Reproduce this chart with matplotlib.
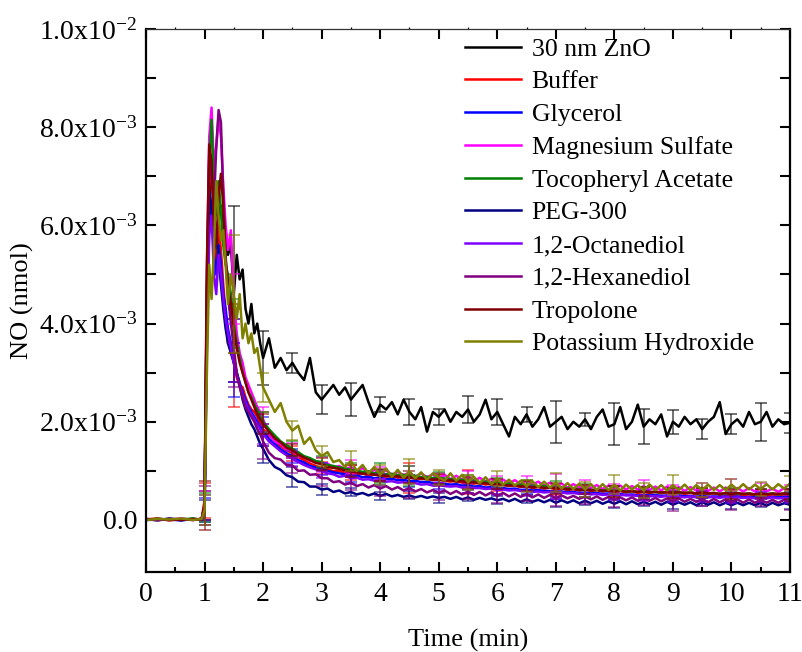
import numpy as np
import matplotlib
matplotlib.use("Agg")
import matplotlib.pyplot as plt
from matplotlib.ticker import FuncFormatter, MultipleLocator, FixedLocator

plt.rcParams['font.family'] = ['Liberation Serif', 'DejaVu Serif']
plt.rcParams['mathtext.fontset'] = 'custom'
plt.rcParams['mathtext.rm'] = 'Liberation Serif'
plt.rcParams['mathtext.it'] = 'Liberation Serif:italic'

# ---- data (NO in units of 1e-3 nmol) ----
time_min = [0.0, 0.2, 0.4, 0.6, 0.8, 0.95, 1.0, 1.04, 1.08, 1.12, 1.16, 1.2, 1.24, 1.28,
            1.32, 1.36, 1.4, 1.45, 1.5, 1.55, 1.6, 1.65, 1.7, 1.75, 1.8, 1.85, 1.9, 1.95, 2.0,
            2.1, 2.2, 2.3, 2.4, 2.5, 2.6, 2.7, 2.8, 2.9, 3.0,
            3.1, 3.2, 3.3, 3.4, 3.5, 3.6, 3.7, 3.8, 3.9, 4.0,
            4.1, 4.2, 4.3, 4.4, 4.5, 4.6, 4.7, 4.8, 4.9, 5.0,
            5.1, 5.2, 5.3, 5.4, 5.5, 5.6, 5.7, 5.8, 5.9, 6.0,
            6.1, 6.2, 6.3, 6.4, 6.5, 6.6, 6.7, 6.8, 6.9, 7.0,
            7.1, 7.2, 7.3, 7.4, 7.5, 7.6, 7.7, 7.8, 7.9, 8.0,
            8.1, 8.2, 8.3, 8.4, 8.5, 8.6, 8.7, 8.8, 8.9, 9.0,
            9.1, 9.2, 9.3, 9.4, 9.5, 9.6, 9.7, 9.8, 9.9, 10.0,
            10.1, 10.2, 10.3, 10.4, 10.5, 10.6, 10.7, 10.8, 10.9, 11.0]

zno_30nm = [0.02, -0.01, 0.03, 0.0, 0.02, 0.01, 0.3, 4.5, 6.6, 7.1, 6.5, 6.9, 6.2, 6.4, 5.8, 5.9,
            5.4, 5.6, 4.6, 5.4, 4.9, 5.1, 4.3, 4.0, 4.4, 3.8, 4.0, 3.6, 3.3,
            3.7, 3.1, 3.3, 3.05, 3.2, 3.0, 2.85, 3.3, 2.6, 2.45,
            2.6, 2.75, 2.55, 2.7, 2.45, 2.6, 2.75, 2.4, 2.1, 2.35,
            2.25, 2.4, 2.15, 2.45, 2.2, 2.05, 2.3, 1.8, 2.2, 2.1,
            2.25, 2.0, 2.2, 2.1, 2.25, 2.0, 2.15, 2.45, 2.05, 2.2,
            1.95, 1.7, 2.1, 1.95, 2.15, 1.9, 2.05, 2.3, 1.9, 2.0,
            2.1, 1.85, 2.0, 1.9, 2.05, 1.85, 2.1, 2.25, 1.9, 1.95,
            2.3, 1.85, 2.0, 2.35, 1.9, 2.05, 1.95, 2.15, 1.7, 2.0,
            1.9, 2.1, 1.95, 2.05, 1.85, 2.0, 2.1, 2.4, 1.75, 1.95,
            2.05, 1.9, 2.2, 1.95, 2.0, 2.2, 1.9, 2.05, 1.95, 1.98]

buffer = [0.01, 0.03, -0.01, 0.02, 0.0, 0.02, 0.4, 4.2, 6.8, 7.4, 5.8, 5.2, 6.0, 5.5, 4.8, 4.2,
          3.6, 3.5, 3.2, 2.9, 2.75, 2.7, 2.5, 2.35, 2.25, 2.2, 2.1, 1.95, 1.85,
          1.72, 1.62, 1.5, 1.42, 1.36, 1.28, 1.22, 1.15, 1.1, 1.06,
          1.04, 0.99, 1.0, 0.96, 0.97, 0.93, 0.95, 0.9, 0.93, 0.9,
          0.88, 0.91, 0.86, 0.88, 0.85, 0.87, 0.83, 0.85, 0.81, 0.82,
          0.8, 0.78, 0.8, 0.76, 0.77, 0.74, 0.76, 0.72, 0.74, 0.7,
          0.72, 0.69, 0.7, 0.67, 0.69, 0.65, 0.67, 0.64, 0.66, 0.62,
          0.64, 0.61, 0.63, 0.6, 0.62, 0.59, 0.61, 0.58, 0.6, 0.57,
          0.59, 0.56, 0.58, 0.55, 0.57, 0.55, 0.57, 0.54, 0.56, 0.53,
          0.55, 0.53, 0.55, 0.52, 0.54, 0.52, 0.54, 0.51, 0.53, 0.5,
          0.53, 0.5, 0.52, 0.5, 0.52, 0.49, 0.52, 0.5, 0.52, 0.51]

glycerol = [0.0, 0.02, 0.01, -0.01, 0.02, 0.0, 0.2, 3.8, 6.0, 6.4, 5.4, 5.0, 5.6, 5.2, 4.6, 4.3,
            3.9, 3.6, 3.3, 3.0, 2.8, 2.6, 2.45, 2.3, 2.2, 2.1, 2.0, 1.9, 1.8,
            1.65, 1.55, 1.44, 1.36, 1.3, 1.22, 1.17, 1.1, 1.07, 1.03,
            1.0, 0.97, 0.95, 0.93, 0.9, 0.91, 0.87, 0.88, 0.85, 0.86,
            0.83, 0.84, 0.81, 0.82, 0.79, 0.8, 0.77, 0.78, 0.75, 0.76,
            0.74, 0.72, 0.73, 0.7, 0.71, 0.68, 0.69, 0.66, 0.67, 0.65,
            0.65, 0.63, 0.64, 0.61, 0.62, 0.6, 0.61, 0.59, 0.59, 0.57,
            0.58, 0.56, 0.57, 0.55, 0.56, 0.54, 0.55, 0.53, 0.54, 0.52,
            0.53, 0.51, 0.52, 0.5, 0.51, 0.5, 0.51, 0.49, 0.5, 0.48,
            0.5, 0.48, 0.49, 0.47, 0.49, 0.47, 0.48, 0.47, 0.48, 0.46,
            0.48, 0.46, 0.47, 0.46, 0.47, 0.45, 0.47, 0.46, 0.47, 0.46]

mg_sulfate = [0.02, 0.0, 0.01, 0.03, 0.0, 0.01, 0.3, 5.0, 7.8, 8.4, 7.2, 7.6, 8.2, 7.8, 6.8, 6.0,
              5.5, 5.9, 4.5, 3.8, 3.4, 3.2, 2.9, 2.75, 2.6, 2.45, 2.3, 2.2, 2.05,
              1.75, 1.6, 1.55, 1.44, 1.42, 1.3, 1.29, 1.2, 1.2, 1.13,
              1.15, 1.07, 1.1, 1.03, 1.08, 1.0, 1.06, 0.96, 1.02, 0.95,
              1.01, 0.92, 0.98, 0.91, 0.97, 0.88, 0.95, 0.87, 0.93, 0.86,
              0.92, 0.83, 0.9, 0.82, 0.88, 0.79, 0.86, 0.78, 0.84, 0.77,
              0.82, 0.75, 0.81, 0.73, 0.79, 0.72, 0.78, 0.7, 0.76, 0.68,
              0.74, 0.66, 0.73, 0.66, 0.72, 0.65, 0.71, 0.63, 0.7, 0.63,
              0.7, 0.62, 0.69, 0.62, 0.69, 0.61, 0.68, 0.6, 0.68, 0.61,
              0.67, 0.59, 0.67, 0.6, 0.66, 0.59, 0.66, 0.58, 0.66, 0.59,
              0.65, 0.58, 0.65, 0.58, 0.65, 0.58, 0.64, 0.57, 0.65, 0.61]

tocopheryl = [0.01, 0.02, 0.0, 0.01, 0.03, 0.0, 0.25, 4.8, 7.3, 8.15, 6.8, 6.2, 6.9, 6.3, 5.6, 5.2,
              5.0, 4.6, 4.0, 3.6, 3.3, 3.0, 2.8, 2.6, 2.5, 2.35, 2.25, 2.1, 2.0,
              1.85, 1.72, 1.6, 1.52, 1.45, 1.38, 1.3, 1.26, 1.2, 1.18,
              1.12, 1.1, 1.07, 1.05, 1.02, 1.0, 0.98, 0.99, 0.95, 0.96,
              0.93, 0.94, 0.91, 0.92, 0.89, 0.9, 0.87, 0.88, 0.85, 0.86,
              0.84, 0.83, 0.81, 0.82, 0.79, 0.8, 0.77, 0.78, 0.75, 0.76,
              0.73, 0.74, 0.71, 0.72, 0.7, 0.7, 0.68, 0.69, 0.66, 0.67,
              0.65, 0.64, 0.65, 0.62, 0.63, 0.61, 0.62, 0.6, 0.61, 0.59,
              0.6, 0.58, 0.59, 0.57, 0.58, 0.57, 0.57, 0.56, 0.57, 0.55,
              0.56, 0.55, 0.56, 0.54, 0.55, 0.54, 0.55, 0.53, 0.54, 0.53,
              0.54, 0.53, 0.54, 0.52, 0.54, 0.53, 0.54, 0.52, 0.54, 0.53]

peg300 = [0.0, 0.01, 0.02, 0.0, 0.01, 0.02, 0.2, 4.0, 6.7, 6.4, 5.5, 5.9, 5.3, 4.8, 4.3, 3.9,
          3.6, 3.4, 3.2, 3.0, 2.75, 2.45, 2.25, 2.1, 1.95, 1.85, 1.7, 1.55, 1.45,
          1.22, 1.08, 1.02, 0.91, 0.87, 0.78, 0.77, 0.68, 0.68, 0.62,
          0.64, 0.57, 0.6, 0.54, 0.57, 0.52, 0.55, 0.5, 0.54, 0.49,
          0.53, 0.48, 0.51, 0.47, 0.5, 0.46, 0.49, 0.45, 0.48, 0.45,
          0.47, 0.43, 0.47, 0.42, 0.46, 0.41, 0.45, 0.41, 0.44, 0.4,
          0.43, 0.38, 0.43, 0.37, 0.42, 0.37, 0.41, 0.36, 0.41, 0.35,
          0.4, 0.35, 0.4, 0.34, 0.39, 0.34, 0.39, 0.33, 0.38, 0.33,
          0.38, 0.32, 0.38, 0.32, 0.37, 0.32, 0.37, 0.31, 0.37, 0.31,
          0.36, 0.31, 0.36, 0.3, 0.36, 0.31, 0.36, 0.3, 0.35, 0.3,
          0.35, 0.3, 0.35, 0.3, 0.35, 0.29, 0.35, 0.3, 0.34, 0.31]

octanediol = [0.01, 0.0, 0.02, 0.01, 0.0, 0.02, 0.2, 3.5, 5.8, 6.2, 5.0, 4.6, 5.4, 5.0, 4.5, 4.1,
              3.8, 3.5, 3.2, 2.95, 2.75, 2.55, 2.4, 2.25, 2.15, 2.05, 1.95, 1.85, 1.75,
              1.6, 1.5, 1.4, 1.32, 1.25, 1.18, 1.12, 1.07, 1.03, 1.0,
              0.95, 0.93, 0.88, 0.9, 0.85, 0.86, 0.82, 0.83, 0.8, 0.81,
              0.78, 0.79, 0.76, 0.77, 0.74, 0.75, 0.72, 0.73, 0.7, 0.71,
              0.69, 0.68, 0.69, 0.66, 0.67, 0.65, 0.65, 0.63, 0.64, 0.61,
              0.62, 0.6, 0.61, 0.59, 0.59, 0.57, 0.58, 0.56, 0.57, 0.55,
              0.56, 0.54, 0.55, 0.53, 0.54, 0.52, 0.53, 0.51, 0.52, 0.5,
              0.51, 0.5, 0.5, 0.49, 0.5, 0.48, 0.49, 0.47, 0.49, 0.47,
              0.48, 0.46, 0.48, 0.46, 0.47, 0.46, 0.47, 0.45, 0.47, 0.45,
              0.46, 0.45, 0.46, 0.44, 0.46, 0.44, 0.46, 0.44, 0.45, 0.44]

hexanediol = [0.02, 0.01, 0.0, 0.02, 0.01, 0.0, 0.3, 4.5, 7.4, 7.0, 6.4, 7.6, 8.35, 8.1, 6.6, 5.4,
              4.6, 4.0, 3.5, 3.0, 2.7, 2.5, 2.3, 2.2, 2.1, 2.0, 1.85, 1.75, 1.6,
              1.37, 1.26, 1.23, 1.12, 1.11, 1.0, 1.01, 0.92, 0.93, 0.85,
              0.85, 0.77, 0.79, 0.72, 0.76, 0.69, 0.73, 0.66, 0.71, 0.64,
              0.69, 0.62, 0.67, 0.6, 0.65, 0.58, 0.63, 0.56, 0.61, 0.55,
              0.6, 0.53, 0.59, 0.52, 0.58, 0.51, 0.57, 0.5, 0.56, 0.49,
              0.55, 0.48, 0.54, 0.47, 0.53, 0.46, 0.52, 0.45, 0.51, 0.44,
              0.5, 0.44, 0.49, 0.43, 0.48, 0.42, 0.48, 0.41, 0.47, 0.41,
              0.46, 0.4, 0.46, 0.39, 0.45, 0.39, 0.45, 0.38, 0.44, 0.38,
              0.44, 0.37, 0.43, 0.37, 0.43, 0.36, 0.43, 0.36, 0.42, 0.36,
              0.42, 0.35, 0.42, 0.35, 0.41, 0.35, 0.41, 0.35, 0.41, 0.36]

tropolone = [0.01, 0.02, 0.01, 0.0, 0.02, 0.01, 0.3, 5.2, 7.65, 7.3, 6.0, 5.6, 6.6, 7.05, 6.4, 5.3,
             4.8, 4.4, 3.9, 3.5, 3.2, 3.0, 2.8, 2.6, 2.45, 2.3, 2.15, 2.05, 1.95,
             1.8, 1.66, 1.58, 1.47, 1.42, 1.33, 1.27, 1.22, 1.16, 1.14,
             1.08, 1.06, 1.04, 1.01, 0.99, 0.97, 0.94, 0.95, 0.92, 0.91,
             0.9, 0.88, 0.89, 0.86, 0.87, 0.84, 0.85, 0.83, 0.82, 0.83,
             0.8, 0.81, 0.78, 0.79, 0.76, 0.77, 0.74, 0.75, 0.72, 0.73,
             0.71, 0.7, 0.71, 0.68, 0.69, 0.66, 0.68, 0.65, 0.66, 0.64,
             0.65, 0.62, 0.63, 0.61, 0.62, 0.6, 0.61, 0.59, 0.6, 0.58,
             0.6, 0.57, 0.59, 0.57, 0.58, 0.56, 0.58, 0.56, 0.57, 0.55,
             0.57, 0.55, 0.56, 0.54, 0.56, 0.54, 0.55, 0.53, 0.55, 0.53,
             0.55, 0.53, 0.54, 0.52, 0.54, 0.52, 0.54, 0.53, 0.54, 0.53]

koh = [0.0, 0.02, 0.01, 0.03, 0.0, 0.02, 0.2, 3.0, 5.2, 4.5, 5.5, 6.9, 6.2, 5.7, 5.9, 5.2,
       4.4, 5.0, 4.6, 4.1, 4.6, 3.7, 4.0, 3.6, 3.8, 3.4, 3.5, 3.1, 2.7,
       2.45, 2.2, 2.38, 2.0, 1.82, 1.92, 1.55, 1.68, 1.42, 1.3,
       1.38, 1.18, 1.22, 1.08, 1.2, 1.0, 1.12, 0.95, 1.08, 0.92,
       1.05, 0.88, 1.02, 0.86, 0.99, 0.85, 0.97, 0.82, 0.95, 0.87,
       0.8, 0.95, 0.8, 0.92, 0.77, 0.88, 0.75, 0.87, 0.73, 0.84,
       0.72, 0.82, 0.7, 0.8, 0.69, 0.79, 0.67, 0.78, 0.66, 0.76,
       0.64, 0.75, 0.63, 0.74, 0.62, 0.73, 0.61, 0.73, 0.61, 0.72,
       0.6, 0.72, 0.62, 0.71, 0.6, 0.72, 0.61, 0.71, 0.6, 0.71,
       0.61, 0.72, 0.6, 0.71, 0.61, 0.72, 0.61, 0.71, 0.61, 0.72,
       0.62, 0.73, 0.62, 0.72, 0.63, 0.73, 0.62, 0.73, 0.64, 0.74]

# error bars every 0.5 min from 1.0 to 11.0 (units 1e-3)
err_times = [1.0, 1.5, 2.0, 2.5, 3.0, 3.5, 4.0, 4.5, 5.0, 5.5, 6.0,
             6.5, 7.0, 7.5, 8.0, 8.5, 9.0, 9.5, 10.0, 10.5, 11.0]
err_zno = [0.3, 1.8, 0.55, 0.2, 0.3, 0.33, 0.16, 0.27, 0.16, 0.27, 0.27,
           0.15, 0.43, 0.13, 0.43, 0.36, 0.24, 0.21, 0.2, 0.39, 0.2]
err_buffer = [0.35, 0.9, 0.35, 0.15, 0.12, 0.15, 0.12, 0.3, 0.1, 0.25, 0.1,
              0.1, 0.12, 0.1, 0.12, 0.1, 0.1, 0.1, 0.12, 0.1, 0.1]
err_glycerol = [0.25, 0.8, 0.3, 0.15, 0.12, 0.12, 0.15, 0.12, 0.12, 0.1, 0.12,
                0.1, 0.1, 0.1, 0.1, 0.1, 0.12, 0.1, 0.1, 0.1, 0.1]
err_mg = [0.3, 0.5, 0.25, 0.15, 0.15, 0.15, 0.12, 0.12, 0.1, 0.12, 0.12,
          0.1, 0.25, 0.1, 0.1, 0.12, 0.1, 0.1, 0.25, 0.1, 0.1]
err_toco = [0.3, 0.5, 0.2, 0.15, 0.12, 0.15, 0.2, 0.2, 0.12, 0.12, 0.1,
            0.12, 0.12, 0.1, 0.1, 0.1, 0.1, 0.1, 0.12, 0.1, 0.1]
err_peg = [0.2, 0.4, 0.3, 0.2, 0.12, 0.08, 0.08, 0.08, 0.1, 0.08, 0.08,
           0.08, 0.08, 0.08, 0.08, 0.08, 0.08, 0.08, 0.08, 0.08, 0.08]
err_oct = [0.3, 0.4, 0.2, 0.15, 0.15, 0.12, 0.12, 0.12, 0.12, 0.12, 0.1,
           0.1, 0.12, 0.1, 0.1, 0.12, 0.1, 0.1, 0.1, 0.1, 0.1]
err_hex = [0.4, 0.8, 0.35, 0.15, 0.15, 0.15, 0.15, 0.2, 0.15, 0.15, 0.15,
           0.15, 0.15, 0.15, 0.15, 0.15, 0.2, 0.15, 0.15, 0.12, 0.15]
err_trop = [0.5, 0.5, 0.2, 0.12, 0.12, 0.12, 0.12, 0.12, 0.1, 0.12, 0.1,
            0.1, 0.12, 0.1, 0.12, 0.1, 0.1, 0.1, 0.1, 0.1, 0.1]
err_koh = [0.3, 1.2, 0.3, 0.2, 0.2, 0.2, 0.2, 0.25, 0.15, 0.15, 0.15,
           0.12, 0.2, 0.15, 0.2, 0.15, 0.2, 0.15, 0.12, 0.15, 0.15]

labels = ["30 nm ZnO", "Buffer", "Glycerol", "Magnesium Sulfate", "Tocopheryl Acetate",
          "PEG-300", "1,2-Octanediol", "1,2-Hexanediol", "Tropolone", "Potassium Hydroxide"]
series = [zno_30nm, buffer, glycerol, mg_sulfate, tocopheryl,
          peg300, octanediol, hexanediol, tropolone, koh]
errors = [err_zno, err_buffer, err_glycerol, err_mg, err_toco,
          err_peg, err_oct, err_hex, err_trop, err_koh]
colors = ["#000000", "#FF0000", "#0000FF", "#FF00FF", "#008000",
          "#000080", "#8000FF", "#800080", "#800000", "#808000"]

# ---- plot ----
fig = plt.figure(figsize=(8.02, 6.52), dpi=100)
ax = fig.add_axes([146 / 802, 80 / 652, 644 / 802, 543 / 652])

t = np.array(time_min)
idx = [int(np.argmin(np.abs(t - et))) for et in err_times]
scale = 1e-3
for lab, ys, es, c in zip(labels, series, errors, colors):
    y = np.array(ys) * scale
    if len(y) != len(t):
        raise ValueError(f"{lab}: {len(y)} vs {len(t)}")
    ax.plot(t, y, color=c, lw=1.8, label=lab, zorder=2)
    ax.errorbar(t[idx], y[idx], yerr=np.array(es) * scale, fmt='none',
                ecolor=c, elinewidth=1.1, capsize=4, capthick=1.1, alpha=0.7, zorder=2)

ax.set_xlim(0, 11)
ax.set_ylim(-1.06e-3, 1.0e-2)
ax.xaxis.set_major_locator(MultipleLocator(1))
ax.xaxis.set_minor_locator(MultipleLocator(0.5))
ax.yaxis.set_major_locator(FixedLocator([i * 1e-3 for i in range(0, 11)]))


def yfmt(v, pos):
    k = int(round(v / 1e-3))
    if k % 2:
        return ""
    if k == 0:
        return "0.0"
    e = int(np.floor(np.log10(abs(v)) + 1e-9))
    m = v / 10 ** e
    return f"{m:.1f}x10$^{{{e}}}$"


ax.yaxis.set_major_formatter(FuncFormatter(yfmt))

for name in ('left', 'bottom', 'right'):
    ax.spines[name].set_linewidth(1.6)
ax.spines['top'].set_linewidth(0.9)
ax.spines['top'].set_color('#333333')

ax.tick_params(axis='both', which='major', direction='in', length=7, width=1.5,
               labelsize=20, right=True)
ax.tick_params(axis='x', which='minor', direction='in', length=3.5, width=1.5)
ax.tick_params(axis='x', which='both', top=True, bottom=True)
# small outward ticks on the thin top spine
for tk in ax.xaxis.get_major_ticks() + ax.xaxis.get_minor_ticks():
    tk.tick2line.set_marker(matplotlib.lines.TICKUP)
    tk.tick2line.set_markersize(1.5)
    tk.tick2line.set_markeredgewidth(0.9)
    tk.tick2line.set_color('#333333')
ax.tick_params(axis='x', which='major', pad=7)
ax.tick_params(axis='y', which='major', pad=6)

ax.set_xlabel("Time (min)", fontsize=19, labelpad=16)
ax.set_ylabel("NO (nmol)", fontsize=19, labelpad=4)

leg = ax.legend(loc='upper left', bbox_to_anchor=(0.495, 0.984), frameon=False,
                fontsize=18.5, handlelength=2.2, handletextpad=0.4,
                labelspacing=0.38, borderpad=0, borderaxespad=0)
for h in leg.get_lines():
    h.set_linewidth(1.8)

fig.savefig("out.png", dpi=100)
